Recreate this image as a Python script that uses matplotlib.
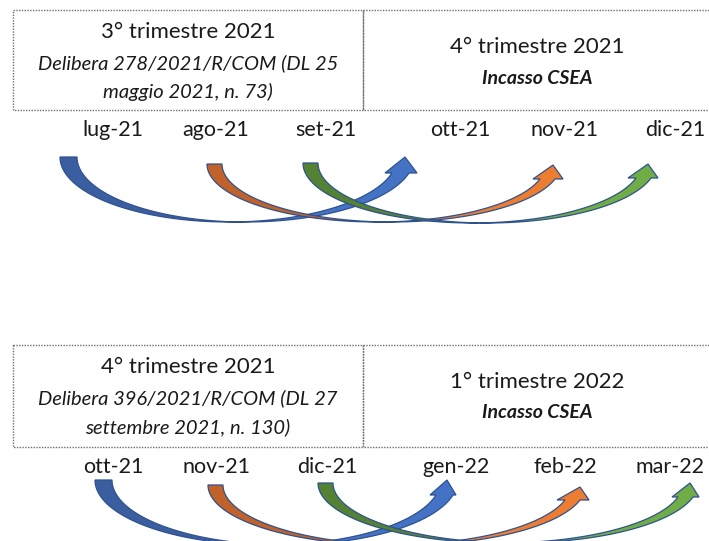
import numpy as np
import matplotlib.pyplot as plt
from matplotlib.patches import Polygon, Rectangle

plt.rcParams['font.family'] = ['Lato', 'DejaVu Sans']

# ---- top panel ----
top_left_title = '3° trimestre 2021'
top_left_note = ['Delibera 278/2021/R/COM (DL 25', 'maggio 2021, n. 73)']
top_right_title = '4° trimestre 2021'
top_right_note = 'Incasso CSEA'
top_months = ['lug-21', 'ago-21', 'set-21', 'ott-21', 'nov-21', 'dic-21']
top_month_x = [113, 216, 326, 460, 564, 675]

# ---- bottom panel ----
bot_left_title = '4° trimestre 2021'
bot_left_note = ['Delibera 396/2021/R/COM (DL 27', 'settembre 2021, n. 130)']
bot_right_title = '1° trimestre 2022'
bot_right_note = 'Incasso CSEA'
bot_months = ['ott-21', 'nov-21', 'dic-21', 'gen-22', 'feb-22', 'mar-22']
bot_month_x = [113, 216, 327, 456, 565, 670]

# curved arrows (pixel coords): tail left x, tail top y, band width, depth,
# neck x, head base y, barbs, tip
top_tail_x = [60, 207, 303]
top_tail_y = [157, 164, 163]
top_band = [17, 15, 15]
top_depth = [65, 58, 60]
top_neck_x = [392, 540, 636]
top_head_y = [173, 179, 178]
top_barbs = [(385, 417), (533, 563), (628, 658)]
top_tips = [(405, 157), (553, 165), (648, 164)]

bot_tail_x = [95, 208, 318]
bot_tail_y = [480, 485, 483]
bot_band = [17, 15, 15]
bot_depth = [65, 60, 60]
bot_neck_x = [436, 565, 678]
bot_head_y = [495, 500, 497]
bot_barbs = [(430, 456), (557, 589), (672, 699)]
bot_tips = [(447, 480), (580, 487), (690, 483)]

light = ['#4472C4', '#ED7D31', '#70AD47']
dark = ['#3A5E9F', '#C0622A', '#548235']
edge = '#2F528F'
ink = '#1a1a1a'


def curved_arrow(ax, x0, ys, w, h, neck, base, barbs, tip, fc_light, fc_dark):
    s = (base - ys) / h
    a = (neck - x0) / (1 + np.sqrt(1 - s ** 2))
    cx = x0 + a
    t1 = np.arcsin(s)
    tc1 = np.arccos(w / (2 * a))
    tc2 = np.arccos(-w / (2 * a))

    def e1(t):
        return np.column_stack([cx + a * np.cos(t), ys + h * np.sin(t)])

    def e2(t):
        return np.column_stack([cx + w + a * np.cos(t), ys + h * np.sin(t)])

    back = np.vstack([e1(np.linspace(np.pi, tc1, 80)),
                      e2(np.linspace(tc2, np.pi, 80))])
    front = np.vstack([e1(np.linspace(tc1, t1, 80)),
                       [[barbs[0], base], tip, [barbs[1], base]],
                       e2(np.linspace(t1, tc2, 80))])
    ax.add_patch(Polygon(back, closed=True, fc=fc_dark, ec=edge, lw=0.9))
    ax.add_patch(Polygon(front, closed=True, fc=fc_light, ec=edge, lw=0.9))


def panel(ax, y0, y1, ltitle, lnote, rtitle, rnote, months, mx, arrows):
    box = dict(fill=False, ec='#6E6E6E', lw=1.0, ls=(0, (1, 1)))
    ax.add_patch(Rectangle((13, y0), 350, y1 - y0, **box))
    ax.add_patch(Rectangle((363, y0), 360, y1 - y0, **box))
    ax.text(188, y0 + 22, ltitle, ha='center', va='center', fontsize=16, color=ink)
    ax.text(188, y0 + 53, lnote[0], ha='center', va='center', fontsize=14.5,
            style='italic', color=ink)
    ax.text(188, y0 + 82, lnote[1], ha='center', va='center', fontsize=14.5,
            style='italic', color=ink)
    ax.text(537, y0 + 37, rtitle, ha='center', va='center', fontsize=16, color=ink)
    ax.text(537, y0 + 68, rnote, ha='center', va='center', fontsize=14,
            style='italic', weight='bold', color=ink)
    for m, x in zip(months, mx):
        ax.text(x, y1 + 20, m, ha='center', va='center', fontsize=15.5, color=ink)
    for i, spec in enumerate(zip(*arrows)):
        curved_arrow(ax, *spec, light[i], dark[i])


fig = plt.figure(figsize=(7.09, 5.41), dpi=100)
ax = fig.add_axes([0, 0, 1, 1])
ax.set_xlim(0, 709)
ax.set_ylim(541, 0)
ax.axis('off')

panel(ax, 10, 110, top_left_title, top_left_note, top_right_title, top_right_note,
      top_months, top_month_x,
      (top_tail_x, top_tail_y, top_band, top_depth, top_neck_x, top_head_y, top_barbs, top_tips))
panel(ax, 345, 447, bot_left_title, bot_left_note, bot_right_title, bot_right_note,
      bot_months, bot_month_x,
      (bot_tail_x, bot_tail_y, bot_band, bot_depth, bot_neck_x, bot_head_y, bot_barbs, bot_tips))

fig.savefig('out.png', dpi=100)
